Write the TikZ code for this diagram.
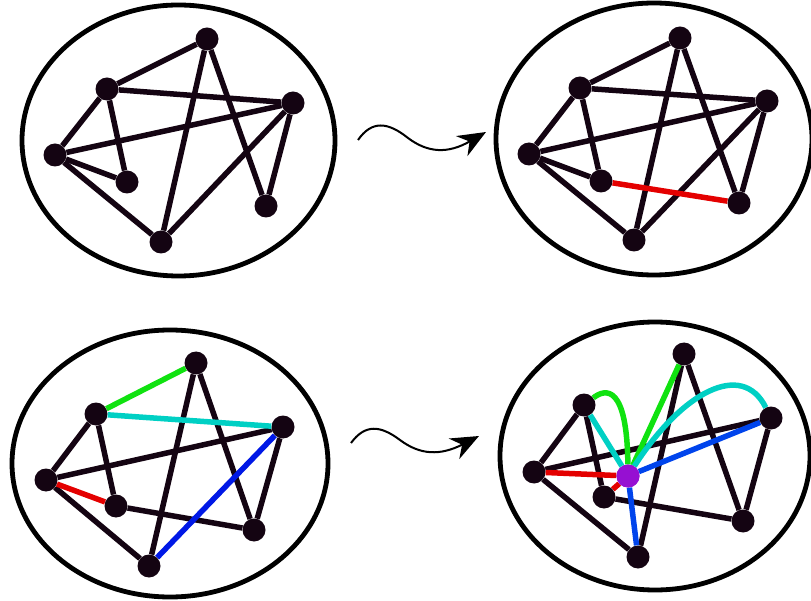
\documentclass[tikz,border=0pt]{standalone}
\usepackage{amsmath}
\usepackage{tikz}
\usetikzlibrary{arrows.meta}

\definecolor{vtxcol}{RGB}{20,4,18}
\definecolor{redcol}{RGB}{228,0,0}
\definecolor{greencol}{RGB}{16,226,16}
\definecolor{cyancol}{RGB}{0,208,196}
\definecolor{bluecol}{RGB}{0,24,230}
\definecolor{blue2col}{RGB}{0,68,236}
\definecolor{purplecol}{RGB}{150,16,210}

\tikzset{
  vtx/.style={circle,fill=vtxcol,inner sep=0pt,minimum size=23pt},
  mid/.style={circle,fill=purplecol,inner sep=0pt,minimum size=23pt},
  edge/.style={line width=5.5pt,vtxcol},
  bag/.style={line width=4.8pt,black},
  squig/.style={line width=2pt,-{Stealth[length=28pt,width=23pt,inset=9pt]}}
}

\begin{document}
\begin{tikzpicture}[x=1pt,y=-1pt]

\useasboundingbox (0,0) rectangle (811,601);

% Draw the ellipses
\draw[bag] (178.5,140.5) ellipse [x radius=156.5, y radius=135.5];
\draw[bag] (654,139) ellipse [x radius=158, y radius=136];
\draw[bag] (170,463.5) ellipse [x radius=158, y radius=133.5];
\draw[bag] (655,456) ellipse [x radius=155, y radius=134];

% Vertices of the four graphs
\foreach \n/\x/\y in {a/207/39,b/107/89,c/293/103,d/55/155,e/127/182,f/266/206,g/161/242}
  \node[vtx] (1\n) at (\x,\y) {};
\foreach \n/\x/\y in {a/680/38,b/580/88,c/767/101,d/529/154,e/601/181,f/739/203,g/634/240}
  \node[vtx] (2\n) at (\x,\y) {};
\foreach \n/\x/\y in {a/196/363,b/96/414,c/283/427,d/46/480,e/116/506,f/254/530,g/149/566}
  \node[vtx] (3\n) at (\x,\y) {};
\foreach \n/\x/\y in {a/684/354,b/584/405,c/771/418,d/534/472,e/604/497,f/743/521,g/638/557}
  \node[vtx] (4\n) at (\x,\y) {};
\node[mid] (4p) at (628,476) {};

% Edges of the first graph
\foreach \u/\v in {a/b,a/g,a/f,b/c,b/d,b/e,c/d,c/g,c/f,d/e,d/g}
  \draw[edge] (1\u) -- (1\v);

% Edges of the second graph
\foreach \u/\v in {a/b,a/g,a/f,b/c,b/d,b/e,c/d,c/g,c/f,d/e,d/g}
  \draw[edge] (2\u) -- (2\v);
\draw[edge,redcol] (2e) -- (2f);

% Edges of the third graph
\foreach \u/\v in {a/g,a/f,b/d,b/e,c/d,c/f,d/g,e/f}
  \draw[edge] (3\u) -- (3\v);
\draw[edge,greencol] (3a) -- (3b);
\draw[edge,cyancol] (3b) -- (3c);
\draw[edge,redcol] (3d) -- (3e);
\draw[edge,bluecol] (3c) -- (3g);

% Edges of the fourth graph
\foreach \u/\v in {a/g,a/f,b/d,b/e,c/d,c/f,d/g,e/f}
  \draw[edge] (4\u) -- (4\v);
\draw[edge,redcol] (4d) -- (4p);
\draw[edge,redcol] (4e) -- (4p);
\draw[edge,greencol] (4a) -- (4p);
\draw[edge,greencol] (4b) .. controls (606,388) and (627,385) .. (4p);
\draw[edge,cyancol] (4b) -- (4p);
\draw[edge,cyancol] (4c) .. controls (742,360) and (682,392) .. (4p);
\draw[edge,blue2col] (4c) -- (4p);
\draw[edge,blue2col] (4g) -- (4p);
\node[mid] at (4p) {};

% Draw the arrows
\coordinate (s1) at (358,140);
\coordinate (t1) at (486,132);
\coordinate (s2) at (351,443);
\coordinate (t2) at (479,436);
\draw[squig] (s1) .. controls (372,120) and (388,122) .. (408,138)
  .. controls (428,153) and (448,154) .. (t1);
\draw[squig] (s2) .. controls (365,424) and (380,425) .. (400,440)
  .. controls (420,455) and (440,456) .. (t2);

\end{tikzpicture}
\end{document}
